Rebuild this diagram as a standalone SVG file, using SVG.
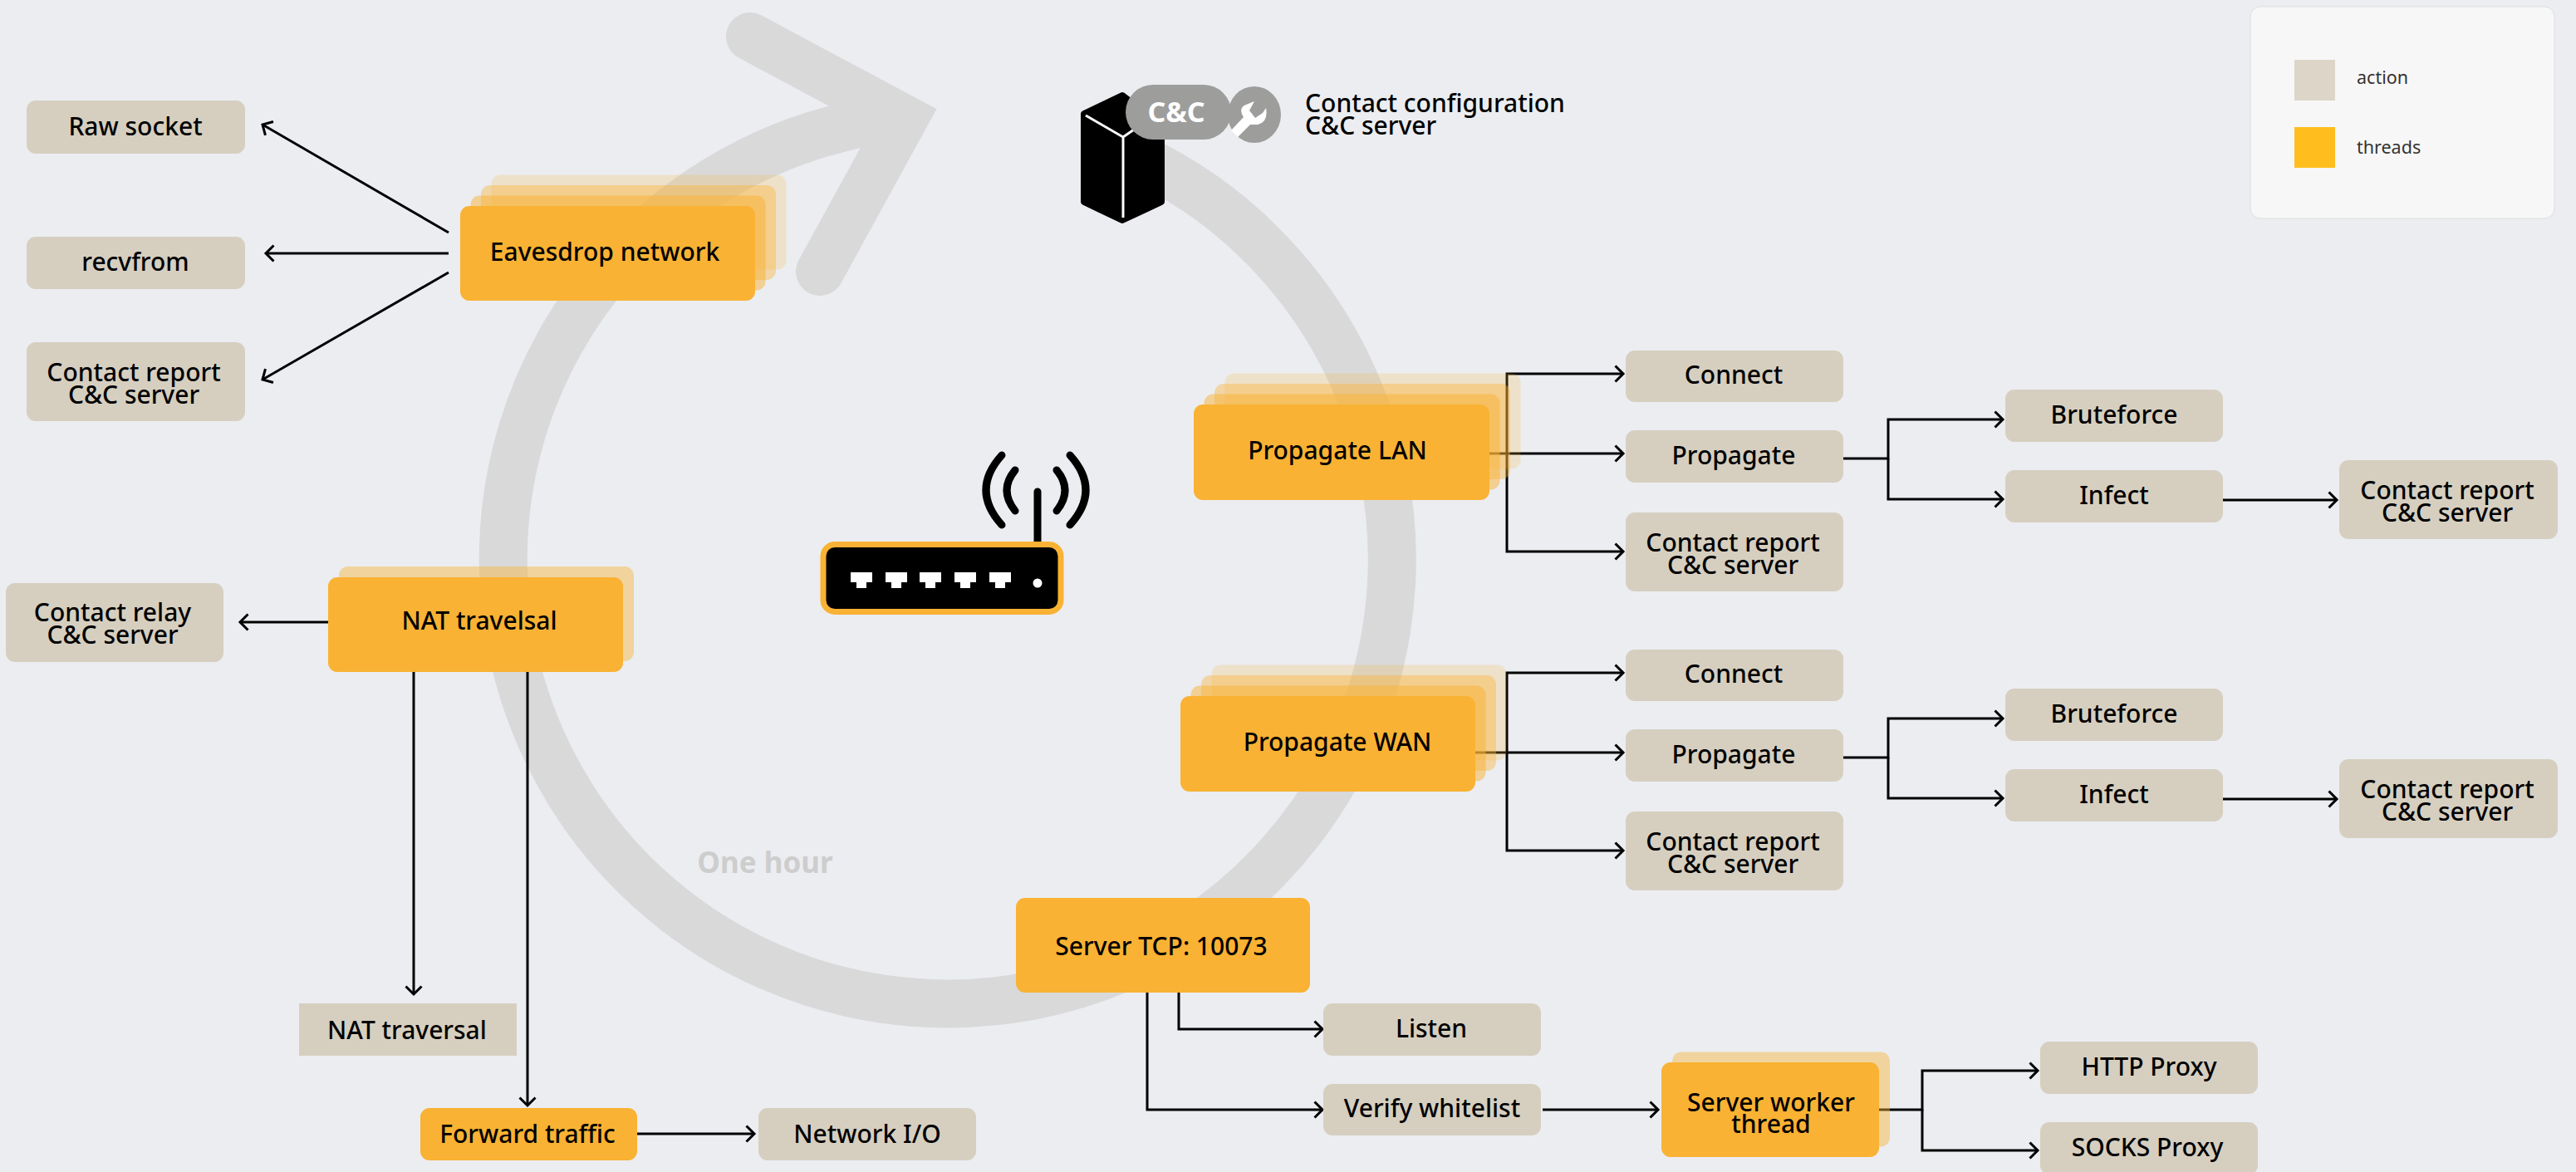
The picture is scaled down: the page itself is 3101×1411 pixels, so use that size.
<svg xmlns="http://www.w3.org/2000/svg" width="3101" height="1411" viewBox="0 0 3101 1411">
<style>
text{font-family:"Noto Sans","Open Sans","DejaVu Sans",sans-serif}
.t{font-size:30px;font-weight:550;fill:#000;text-anchor:middle}
.a{fill:#D6CFC0}
.o{fill:#F9B233}
.c{fill:none;stroke:#000;stroke-width:3;marker-end:url(#ah)}
.ring{fill:none;stroke:#D9D9D9;stroke-width:58}
.arc{fill:none;stroke:#000;stroke-width:9;stroke-linecap:round}
.l1{opacity:.5}.l2{opacity:.4}.l3{opacity:.2}.s{opacity:.44}
</style>
<defs>
<marker id="ah" markerUnits="userSpaceOnUse" markerWidth="14" markerHeight="24" refX="11" refY="12" orient="auto">
<path d="M1.5,2.5L11,12L1.5,21.5" fill="none" stroke="#000" stroke-width="3"/>
</marker>
</defs>
<rect width="3101" height="1411" fill="#EBEDF1"/>
<g id="cycle">
<path class="ring" d="M1350,181A535,535 0 1 1 1088,141"/>
<path class="ring" stroke-linecap="round" stroke-miterlimit="4" d="M903,44L1088,143L987,327"/>
<text x="921" y="1051" font-size="35" font-weight="700" fill="#CDCDCD" text-anchor="middle">One hour</text>
</g>
<g id="connectors">
<path class="c" d="M540,280L316,150"/>
<path class="c" d="M540,305L320,305"/>
<path class="c" d="M540,328L316,457"/>
<path class="c" d="M395,749L289,749"/>
<path class="c" d="M498,809V1197"/>
<path class="c" d="M635,809V1331"/>
<path class="c" d="M767,1365H908"/>
<path class="c" d="M1814,546V450H1954"/>
<path class="c" d="M1793,546H1954"/>
<path class="c" d="M1814,546V664H1954"/>
<path class="c" d="M2219,552H2273V505H2411"/>
<path class="c" d="M2273,552V601H2411"/>
<path class="c" d="M2676,602H2813"/>
<path class="c" d="M1814,906V810H1954"/>
<path class="c" d="M1776,906H1954"/>
<path class="c" d="M1814,906V1024H1954"/>
<path class="c" d="M2219,912H2273V865H2411"/>
<path class="c" d="M2273,912V961H2411"/>
<path class="c" d="M2676,962H2813"/>
<path class="c" d="M1419,1195V1239H1592"/>
<path class="c" d="M1381,1195V1336H1592"/>
<path class="c" d="M1857,1336H1996"/>
<path class="c" d="M2262,1336H2314V1289H2453"/>
<path class="c" d="M2314,1336V1385H2453"/>
</g>
<g id="raw-socket"><rect class="a" x="32" y="121" width="263" height="64" rx="11"/><text class="t" x="163" y="163">Raw socket</text></g>
<g id="recvfrom"><rect class="a" x="32" y="285" width="263" height="63" rx="11"/><text class="t" x="163" y="326">recvfrom</text></g>
<g id="contact-report-1"><rect class="a" x="32" y="412" width="263" height="95" rx="11"/><text class="t" x="161" y="459">Contact report</text><text class="t" x="161" y="486">C&amp;C server</text></g>
<g id="eavesdrop">
<rect class="o l3" x="591.500" y="210.500" width="355" height="114" rx="11"/>
<rect class="o l2" x="579" y="223" width="355" height="114" rx="11"/>
<rect class="o l1" x="566.500" y="235.500" width="355" height="114" rx="11"/>
<rect class="o" x="554" y="248" width="355" height="114" rx="11"/>
<text class="t" x="728" y="314">Eavesdrop network</text></g>
<g id="nat">
<rect class="o s" x="408" y="682" width="355" height="114" rx="11"/>
<rect class="o" x="395" y="695" width="355" height="114" rx="11"/>
<text class="t" x="577" y="758">NAT travelsal</text></g>
<g id="contact-relay"><rect class="a" x="7" y="702" width="262" height="95" rx="11"/><text class="t" x="135.500" y="748">Contact relay</text><text class="t" x="135.500" y="775">C&amp;C server</text></g>
<g id="nat-traversal"><rect class="a" x="360" y="1208" width="262" height="63"/><text class="t" x="490" y="1251">NAT traversal</text></g>
<g id="forward-traffic"><rect class="o" x="506" y="1334" width="261" height="63" rx="11"/><text class="t" x="635" y="1376">Forward traffic</text></g>
<g id="network-io"><rect class="a" x="913" y="1334" width="262" height="63" rx="11"/><text class="t" x="1044" y="1376">Network I/O</text></g>
<g id="server-tcp"><rect class="o" x="1223" y="1081" width="354" height="114" rx="11"/><text class="t" x="1398" y="1150">Server TCP: 10073</text></g>
<g id="listen"><rect class="a" x="1593" y="1208" width="262" height="63" rx="11"/><text class="t" x="1723" y="1249">Listen</text></g>
<g id="verify"><rect class="a" x="1593" y="1305" width="262" height="62" rx="11"/><text class="t" x="1724" y="1345">Verify whitelist</text></g>
<g id="worker">
<rect class="o s" x="2013" y="1266.500" width="262" height="114" rx="11"/>
<rect class="o" x="2000" y="1279" width="262" height="114" rx="11"/>
<text class="t" x="2132" y="1338">Server worker</text><text class="t" x="2132" y="1364">thread</text></g>
<g id="http"><rect class="a" x="2456" y="1254" width="262" height="63" rx="11"/><text class="t" x="2587" y="1295">HTTP Proxy</text></g>
<g id="socks"><rect class="a" x="2456" y="1351" width="262" height="63" rx="11"/><text class="t" x="2585" y="1392">SOCKS Proxy</text></g>
<g id="lan">
<rect class="o l3" x="1474.500" y="449.500" width="356" height="115" rx="11"/>
<rect class="o l2" x="1462" y="462" width="356" height="115" rx="11"/>
<rect class="o l1" x="1449.500" y="474.500" width="356" height="115" rx="11"/>
<rect class="o" x="1437" y="487" width="356" height="115" rx="11"/>
<text class="t" x="1610" y="553">Propagate LAN</text></g>
<g id="wan">
<rect class="o l3" x="1458.500" y="800.500" width="355" height="115" rx="11"/>
<rect class="o l2" x="1446" y="813" width="355" height="115" rx="11"/>
<rect class="o l1" x="1433.500" y="825.500" width="355" height="115" rx="11"/>
<rect class="o" x="1421" y="838" width="355" height="115" rx="11"/>
<text class="t" x="1610" y="904">Propagate WAN</text></g>
<g id="lan-connect"><rect class="a" x="1957" y="422" width="262" height="62" rx="11"/><text class="t" x="2087" y="462">Connect</text></g>
<g id="lan-propagate"><rect class="a" x="1957" y="518" width="262" height="63" rx="11"/><text class="t" x="2087" y="559">Propagate</text></g>
<g id="lan-report"><rect class="a" x="1957" y="617" width="262" height="95" rx="11"/><text class="t" x="2086" y="664">Contact report</text><text class="t" x="2086" y="691">C&amp;C server</text></g>
<g id="lan-brute"><rect class="a" x="2414" y="469" width="262" height="63" rx="11"/><text class="t" x="2545" y="510">Bruteforce</text></g>
<g id="lan-infect"><rect class="a" x="2414" y="566" width="262" height="63" rx="11"/><text class="t" x="2545" y="607">Infect</text></g>
<g id="lan-far"><rect class="a" x="2816" y="554" width="263" height="95" rx="11"/><text class="t" x="2946" y="601">Contact report</text><text class="t" x="2946" y="628">C&amp;C server</text></g>
<g id="wan-connect"><rect class="a" x="1957" y="782" width="262" height="62" rx="11"/><text class="t" x="2087" y="822">Connect</text></g>
<g id="wan-propagate"><rect class="a" x="1957" y="878" width="262" height="63" rx="11"/><text class="t" x="2087" y="919">Propagate</text></g>
<g id="wan-report"><rect class="a" x="1957" y="977" width="262" height="95" rx="11"/><text class="t" x="2086" y="1024">Contact report</text><text class="t" x="2086" y="1051">C&amp;C server</text></g>
<g id="wan-brute"><rect class="a" x="2414" y="829" width="262" height="63" rx="11"/><text class="t" x="2545" y="870">Bruteforce</text></g>
<g id="wan-infect"><rect class="a" x="2414" y="926" width="262" height="63" rx="11"/><text class="t" x="2545" y="967">Infect</text></g>
<g id="wan-far"><rect class="a" x="2816" y="914" width="263" height="95" rx="11"/><text class="t" x="2946" y="961">Contact report</text><text class="t" x="2946" y="988">C&amp;C server</text></g>
<g id="cnc">
<path d="M1351,115L1398,151V243L1351,265L1305,243V137Z" fill="#000" stroke="#000" stroke-width="8" stroke-linejoin="round"/>
<path d="M1307,139L1352,165V262M1352,165L1365,156" fill="none" stroke="#fff" stroke-width="3"/>
<ellipse cx="1510" cy="138" rx="32" ry="34" fill="#9D9D9C"/>
<path d="M1482,157L1497,141Q1490,130 1500,126L1510,122L1504,133L1511,142L1520,136L1524,130Q1527,147 1514,150L1505,150L1490,165Z" fill="#fff"/>
<rect x="1355" y="102" width="127" height="66" rx="33" fill="#9D9D9C"/>
<text x="1416" y="147" font-size="34" font-weight="700" fill="#fff" text-anchor="middle">C&amp;C</text>
<text x="1571" y="135" font-size="30" font-weight="550">Contact configuration</text>
<text x="1571" y="162" font-size="30" font-weight="550">C&amp;C server</text>
</g>
<g id="router">
<path class="arc" stroke-width="10" d="M1249,592V660"/>
<path class="arc" d="M1222,566Q1202,590 1222,615M1206,548Q1168,590 1206,632M1272,566Q1292,590 1272,615M1288,548Q1326,590 1288,632"/>
<rect x="991" y="655.500" width="286" height="81" rx="14" fill="#000" stroke="#F9B233" stroke-width="7"/>
<path fill="#fff" d="M1024,689H1050V701H1043V708H1031V701H1024Z"/>
<path fill="#fff" d="M1066,689H1092V701H1085V708H1073V701H1066Z"/>
<path fill="#fff" d="M1107,689H1133V701H1126V708H1114V701H1107Z"/>
<path fill="#fff" d="M1149,689H1175V701H1168V708H1156V701H1149Z"/>
<path fill="#fff" d="M1191,689H1217V701H1210V708H1198V701H1191Z"/>
<circle cx="1249" cy="702" r="5.500" fill="#fff"/>
</g>
<g id="legend">
<rect x="2709" y="8" width="366" height="255" rx="12" fill="#F7F7F7" stroke="#DDD"/>
<rect x="2762" y="72" width="49" height="49" fill="#DDD5C7"/>
<rect x="2762" y="153" width="49" height="49" fill="#FFBE1E"/>
<text x="2837" y="101" font-size="21.500" fill="#333">action</text>
<text x="2837" y="185" font-size="21.500" fill="#333">threads</text>
</g>
</svg>
